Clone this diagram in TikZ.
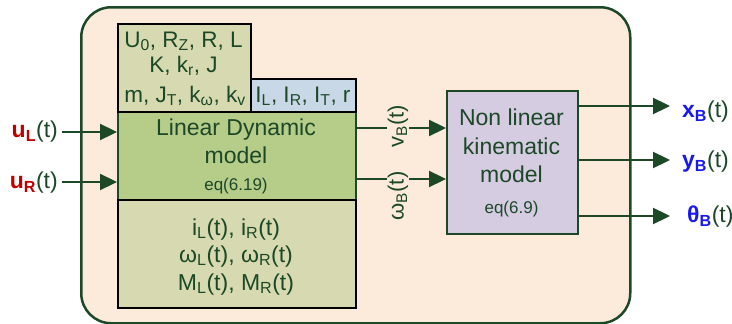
\documentclass[tikz,border=0pt]{standalone}
\usepackage{fontspec}
\setmainfont{Liberation Sans}
\usetikzlibrary{arrows.meta}
\definecolor{dkg}{RGB}{28,72,40}
\definecolor{peach}{RGB}{252,234,218}
\definecolor{khaki}{RGB}{215,218,176}
\definecolor{ltblue}{RGB}{200,216,230}
\definecolor{grn}{RGB}{182,204,137}
\definecolor{lav}{RGB}{213,204,226}
\definecolor{rd}{RGB}{192,0,0}
\definecolor{bl}{RGB}{25,25,235}
\begin{document}
\begin{tikzpicture}[x=1pt,y=-1pt,
  box/.style={line width=2.2pt, inner sep=0pt, anchor=north west},
  conn/.style={draw=dkg, line width=2.3pt, -{Triangle[length=17pt,width=16pt]}},
  txt/.style={text=dkg, inner sep=0pt, anchor=base, font=\fontsize{23}{27}\selectfont},
  ptxt/.style={text=dkg, inner sep=0pt, anchor=base, font=\fontsize{22.5}{27}\selectfont},
  small/.style={text=dkg, inner sep=0pt, anchor=base, font=\fontsize{17}{20}\selectfont},
  vlab/.style={text=dkg, fill=peach, inner sep=1pt, rotate=90, font=\fontsize{22}{26}\selectfont},
]
\useasboundingbox (0,0) rectangle (732,324);
% frame
\node[box, draw=dkg, fill=peach, line width=2.5pt, rounded corners=30pt,
      minimum width=549pt, minimum height=316pt] (frame) at (80,6) {};
% boxes
\node[box, draw=dkg, fill=grn, minimum width=238pt, minimum height=88pt] (lin) at (117,111) {};
\node[box, draw=black, fill=khaki, minimum width=133pt, minimum height=88pt] (par) at (117,23) {};
\node[box, draw=black, fill=ltblue, minimum width=105pt, minimum height=33pt] (geo) at (250,78) {};
\node[box, draw=black, fill=khaki, minimum width=238pt, minimum height=108pt] (st) at (117,199) {};
\node[box, draw=dkg, fill=lav, minimum width=131pt, minimum height=143pt] (nl) at (446,90) {};
% texts in boxes
\node[ptxt] (p1) at (183.5,47) {U\textsubscript{0}, R\textsubscript{Z}, R, L};
\node[ptxt] (p2) at (183.5,72) {K, k\textsubscript{r}, J};
\node[ptxt] (p3) at (185,102) {m, J\textsubscript{T}, k\textsubscript{ω}, k\textsubscript{v}};
\node[ptxt] (g1) at (303,102) {I\textsubscript{L}, I\textsubscript{R}, I\textsubscript{T}, r};
\node[txt] (l1) at (236,135) {Linear Dynamic};
\node[txt] (l2) at (236,163) {model};
\node[small] (l3) at (236,190) {eq(6.19)};
\node[txt] (s1) at (236,235) {i\textsubscript{L}(t), i\textsubscript{R}(t)};
\node[txt] (s2) at (236,262) {ω\textsubscript{L}(t), ω\textsubscript{R}(t)};
\node[txt] (s3) at (236,290) {M\textsubscript{L}(t), M\textsubscript{R}(t)};
\node[txt] (n1) at (511.5,125) {Non linear};
\node[txt] (n2) at (511.5,154) {kinematic};
\node[txt] (n3) at (511.5,182) {model};
\node[small] (n4) at (511.5,213) {eq(6.9)};
% inputs
\coordinate (uLs) at (62,132);
\coordinate (uRs) at (62,182);
\draw[conn] (uLs) -- (uLs -| lin.west);
\draw[conn] (uRs) -- (uRs -| lin.west);
\node[anchor=east, inner sep=0pt, text=dkg, font=\fontsize{23}{27}\selectfont] (uL) at (58,132)
  {\textcolor{rd}{\textbf{u\textsubscript{L}}}(t)};
\node[anchor=east, inner sep=0pt, text=dkg, font=\fontsize{23}{27}\selectfont] (uR) at (58,183)
  {\textcolor{rd}{\textbf{u\textsubscript{R}}}(t)};
% internal
\coordinate (vs) at (355,128);
\coordinate (ws) at (355,179);
\draw[conn] (vs) -- (vs -| nl.west);
\draw[conn] (ws) -- (ws -| nl.west);
\node[vlab] (vB) at (398,126) {v\textsubscript{B}(t)};
\node[vlab] (wB) at (398,196) {ω\textsubscript{B}(t)};
% outputs
\coordinate (xe) at (670,106);
\coordinate (ye) at (670,160);
\coordinate (te) at (670,216);
\draw[conn] (nl.east |- xe) -- (xe);
\draw[conn] (nl.east |- ye) -- (ye);
\draw[conn] (nl.east |- te) -- (te);
\node[anchor=west, inner sep=0pt, text=dkg, font=\fontsize{23}{27}\selectfont] (xB) at (682,112)
  {\textcolor{bl}{\textbf{x\textsubscript{B}}}(t)};
\node[anchor=west, inner sep=0pt, text=dkg, font=\fontsize{23}{27}\selectfont] (yB) at (682,162)
  {\textcolor{bl}{\textbf{y\textsubscript{B}}}(t)};
\node[anchor=west, inner sep=0pt, text=dkg, font=\fontsize{23}{27}\selectfont] (tB) at (687,217)
  {\textcolor{bl}{\textbf{θ\textsubscript{B}}}(t)};
\end{tikzpicture}
\end{document}
